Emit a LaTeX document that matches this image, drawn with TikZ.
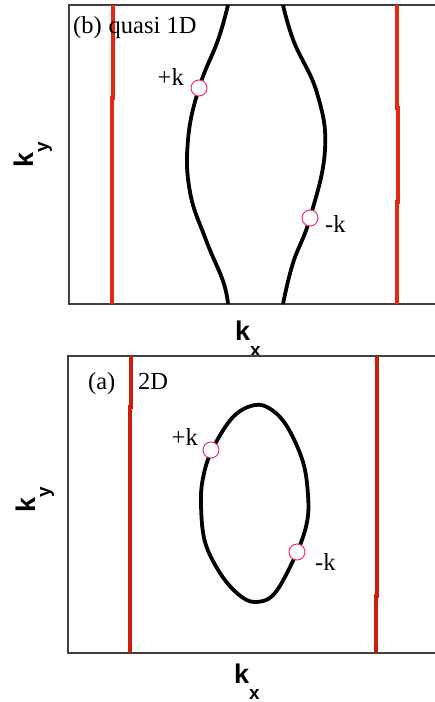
\documentclass[tikz,border=0pt]{standalone}
\usepackage{fontspec}
\setmainfont{Liberation Serif}
\newfontfamily\lsans{Liberation Sans}
\begin{document}
\begin{tikzpicture}[x=1pt,y=-1pt,
  frame/.style={draw=black!75, line width=1.2pt},
  fermi/.style={draw=black, line width=3.8pt},
  redline/.style={draw={rgb,255:red,228;green,40;blue,18}, line width=3.4pt},
  redlineb/.style={draw={rgb,255:red,205;green,30;blue,12}, line width=3.4pt},
  kpt/.style={circle, draw={rgb,255:red,232;green,50;blue,105}, fill=white, line width=1pt, minimum size=16pt, inner sep=0pt},
  lbl/.style={inner sep=0pt, font=\fontsize{24.5}{28}\selectfont},
  axlbl/.style={inner sep=0pt, font=\lsans\bfseries\fontsize{27}{30}\selectfont}
]
\useasboundingbox (0,0) rectangle (435,702);
\fill[white] (0,0) rectangle (435,702);

% ---------- top panel (b) ----------
\draw[frame] (436,5) -- (69,5) -- (69,304) -- (436,304);
\draw[redline] (113,5) -- (113,98) -- (112,98) -- (112,304);
\draw[redline] (397,5) -- (397,108) -- (398,108) -- (398,202) -- (397,202) -- (397,304);
\draw[fermi] plot[smooth, tension=0.7] coordinates {(228,5) (218,40) (199,88) (188,140) (190,192) (206,240) (223,281) (228,304)};
\draw[fermi] plot[smooth, tension=0.7] coordinates {(283,5) (294,42) (317,93) (325,150) (310,218) (293,263) (283,304)};
\node[kpt] (kp1) at (199,88) {};
\node[kpt] (km1) at (310,218) {};
\node[lbl, anchor=base east] (lkp1) at (184,85) {+k};
\node[lbl, anchor=base west] (lkm1) at (325,232) {-k};
\node[lbl, anchor=base west] (tb) at (73,33) {(b)\hspace{7pt}quasi 1D};
\node[axlbl, anchor=base west] (kx1) at (235,340) {k\raisebox{-16pt}{\fontsize{19}{19}\selectfont x}};
\node[axlbl, anchor=base west, rotate=90] (ky1) at (33,168) {k\raisebox{-15pt}{\fontsize{19}{19}\selectfont y}};

% ---------- bottom panel (a) ----------
\draw[frame] (436,356) -- (68,356) -- (68,653) -- (436,653);
\draw[redlineb] (131,356) -- (131,407) -- (130,407) -- (130,653);
\draw[redlineb] (377,356) -- (377,596) -- (376,596) -- (376,653);
\draw[fermi] plot[smooth cycle, tension=0.6] coordinates {(255,405) (233,417) (212,450) (203,478) (201,505) (205,542) (220,573) (238,594) (255,602) (275,593) (297,552) (307,522) (308,495) (303,462) (288,428) (272,410)};
\node[kpt] (kp2) at (211,450) {};
\node[kpt] (km2) at (297,552) {};
\node[lbl, anchor=base east] (lkp2) at (198,445) {+k};
\node[lbl, anchor=base west] (lkm2) at (315,570) {-k};
\node[lbl, anchor=base west] (ta) at (88,389) {(a)};
\node[lbl, anchor=base west] (ta2) at (138,389) {2D};
\node[axlbl, anchor=base west] (kx2) at (234,683) {k\raisebox{-16pt}{\fontsize{19}{19}\selectfont x}};
\node[axlbl, anchor=base west, rotate=90] (ky2) at (35,513) {k\raisebox{-15pt}{\fontsize{19}{19}\selectfont y}};
\end{tikzpicture}
\end{document}
